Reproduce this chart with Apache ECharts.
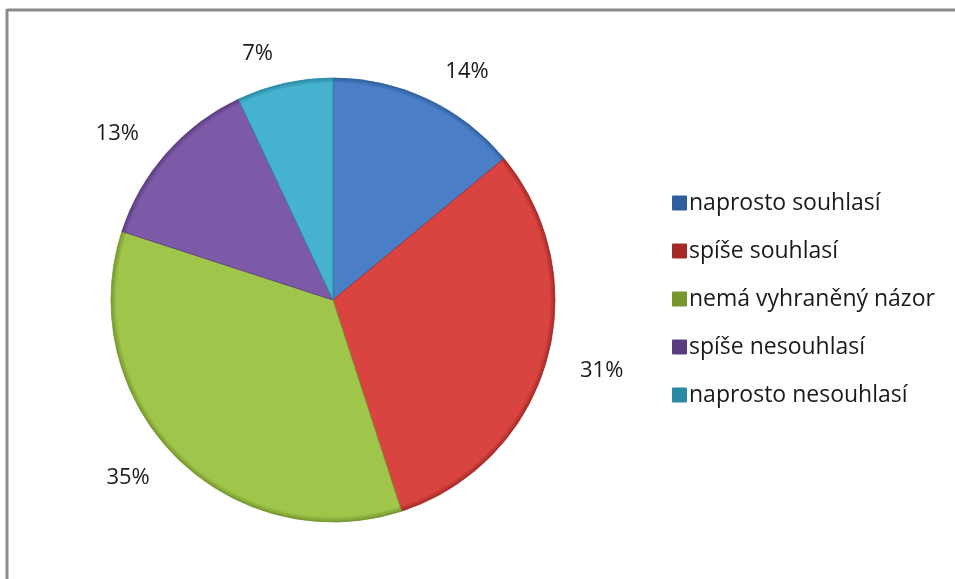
<!DOCTYPE html>
<html>
<head>
<meta charset="utf-8">
<script src="https://cdn.jsdelivr.net/npm/echarts@6/dist/echarts.min.js"></script>
<style>
html,body{margin:0;padding:0;background:#fff;}
#chart{width:955px;height:579px;}
</style>
</head>
<body>
<div id="chart"></div>
<script>
var categories = ['naprosto souhlasí', 'spíše souhlasí', 'nemá vyhraněný názor', 'spíše nesouhlasí', 'naprosto nesouhlasí'];
var values = [14, 31, 35, 13, 7];
var colors = ['#4a7fc8', '#d94441', '#9fc54a', '#7d5aa8', '#45b2cf'];
var edgeColors = ['#2f5f9e', '#a52a27', '#76962e', '#5a3d80', '#2a8aa5'];

var CX = 333, CY = 300, R = 222;

function shade(base, edge) {
  return {
    type: 'radial', x: CX, y: CY, r: R, global: true,
    colorStops: [
      {offset: 0, color: base},
      {offset: 0.975, color: base},
      {offset: 1, color: edge}
    ]
  };
}

var data = categories.map(function (c, i) {
  return {
    name: c,
    value: values[i],
    itemStyle: {color: shade(colors[i], edgeColors[i]), borderColor: edgeColors[i], borderWidth: 0.8}
  };
});

var chart = echarts.init(document.getElementById('chart'));
chart.setOption({
  animation: false,
  color: colors,
  graphic: [
    {type: 'line', shape: {x1: 7, y1: 10, x2: 955, y2: 10}, style: {stroke: '#8a8a8a', lineWidth: 3}},
    {type: 'line', shape: {x1: 7, y1: 9, x2: 7, y2: 579}, style: {stroke: '#8a8a8a', lineWidth: 3}}
  ],
  legend: {
    orient: 'vertical',
    left: 672,
    top: 187,
    padding: 0,
    icon: 'rect',
    itemWidth: 13,
    itemHeight: 13,
    itemGap: 16,
    textStyle: {fontFamily: 'Open Sans', fontSize: 23, lineHeight: 32, color: '#1a1a1a', padding: [0, 0, 0, -2]},
    data: categories
  },
  series: [{
    type: 'pie',
    center: [CX, CY],
    radius: R,
    startAngle: 90,
    clockwise: true,
    silent: true,
    data: data,
    label: {
      show: true,
      position: 'outside',
      formatter: '{d}%',
      fontFamily: 'Open Sans',
      fontSize: 22,
      color: '#1a1a1a'
    },
    labelLine: {show: false, length: 30, length2: 0}
  }]
});
</script>
</body>
</html>
